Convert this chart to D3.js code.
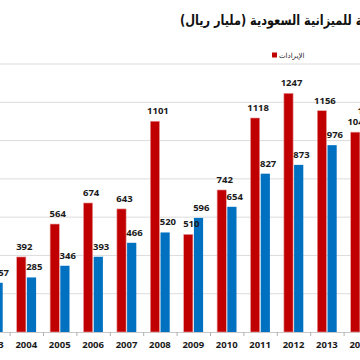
<!DOCTYPE html>
<html>
<head>
<meta charset="utf-8">
<script src="https://cdn.jsdelivr.net/npm/d3@7"></script>
<style>
  html, body { margin: 0; padding: 0; background: #fff; }
  svg { display: block; }
</style>
</head>
<body>
<div id="chart"></div>
<script>
// values (billion riyals); 2003 revenue is off the picture
const years = ["2003", "2004", "2005", "2006", "2007", "2008", "2009", "2010", "2011", "2012", "2013", "2014"];
const revenues = [null, 392, 564, 674, 643, 1101, 510, 742, 1118, 1247, 1156, 1044];
const expenditures = [257, 285, 346, 393, 466, 520, 596, 654, 827, 873, 976, 1100];
const yTicks = [0, 200, 400, 600, 800, 1000, 1200, 1400];

const titleText = "الإيرادات والنفقات الفعلية للميزانية السعودية (مليار ريال)";
const legendRev = "الإيرادات";

const width = 360, height = 360;
const baseY = 332, topY = 64;

const svg = d3.select("#chart").append("svg")
    .attr("width", width)
    .attr("height", height);

const x = d3.scaleBand()
    .domain(years)
    .range([-23.8, -23.8 + 33.4 * years.length])
    .padding(0);

const y = d3.scaleLinear()
    .domain([0, 1400])
    .range([baseY, topY]);

const x1 = d3.scaleBand()
    .domain(["rev", "exp"])
    .range([x.bandwidth() / 2 - 10, x.bandwidth() / 2 + 10]);

// gridlines
svg.append("g")
    .selectAll("line")
    .data(yTicks.slice(1))
    .join("line")
    .attr("x1", 0).attr("x2", width)
    .attr("y1", d => y(d)).attr("y2", d => y(d))
    .attr("stroke", "#dcdcdc")
    .attr("stroke-width", 1);

// x axis
const xAxis = svg.append("g")
    .attr("transform", `translate(0, ${baseY})`)
    .call(d3.axisBottom(x).tickSize(0).tickPadding(9));
xAxis.select(".domain").attr("stroke", "#c8c8c8");
xAxis.selectAll("text")
    .attr("font-family", "'Open Sans', sans-serif")
    .attr("font-weight", "bold")
    .attr("font-size", 9.5)
    .attr("fill", "#1a1a1a");

// category tick marks between groups
svg.append("g")
    .selectAll("line")
    .data(years)
    .join("line")
    .attr("x1", d => x(d) + 0.5).attr("x2", d => x(d) + 0.5)
    .attr("y1", baseY).attr("y2", baseY + 4)
    .attr("stroke", "#b0b0b0");

const rows = years.map((yr, i) => ({ year: yr, rev: revenues[i], exp: expenditures[i] }));

const groups = svg.append("g")
    .selectAll("g")
    .data(rows)
    .join("g")
    .attr("transform", d => `translate(${x(d.year)}, 0)`);

const withRev = groups.filter(d => d.rev != null);

withRev.append("rect")
    .attr("x", x1("rev") + 0.4)
    .attr("width", x1.bandwidth() - 0.8)
    .attr("y", d => y(d.rev))
    .attr("height", d => baseY - y(d.rev))
    .attr("fill", "#c00000")
    .attr("stroke", "#e8a0a0")
    .attr("stroke-width", 0.6);

groups.append("rect")
    .attr("x", x1("exp") + 0.6)
    .attr("width", x1.bandwidth() - 0.8)
    .attr("y", d => y(d.exp))
    .attr("height", d => baseY - y(d.exp))
    .attr("fill", "#0070c0");

const labelFont = g => g
    .attr("font-family", "'Open Sans', sans-serif")
    .attr("font-weight", "bold")
    .attr("font-size", 9.5)
    .attr("fill", "#1a1a1a")
    .attr("text-anchor", "middle");

withRev.append("text")
    .attr("x", x1("rev") + x1.bandwidth() / 2 + 3)
    .attr("y", d => y(d.rev) - 7)
    .text(d => d.rev)
    .call(labelFont);

groups.append("text")
    .attr("x", x1("exp") + x1.bandwidth() / 2 + 3)
    .attr("y", d => y(d.exp) - 7)
    .text(d => d.exp)
    .call(labelFont);

// title (right part is cut off in the source), squeezed a little to match
svg.append("text")
    .attr("transform", "translate(180, 25) scale(0.9, 1)")
    .attr("direction", "rtl")
    .attr("text-anchor", "end")
    .attr("font-family", "'DejaVu Sans Condensed', 'DejaVu Sans', sans-serif")
    .attr("font-weight", "bold")
    .attr("font-size", 14)
    .attr("fill", "#111")
    .text(titleText);

// legend
svg.append("rect")
    .attr("x", 272).attr("y", 52.5)
    .attr("width", 5).attr("height", 5)
    .attr("fill", "#c00000");
svg.append("text")
    .attr("x", 279)
    .attr("y", 57.5)
    .attr("direction", "rtl")
    .attr("text-anchor", "end")
    .attr("font-family", "'DejaVu Sans', sans-serif")
    .attr("font-size", 7)
    .attr("fill", "#222")
    .text(legendRev);
</script>
</body>
</html>
